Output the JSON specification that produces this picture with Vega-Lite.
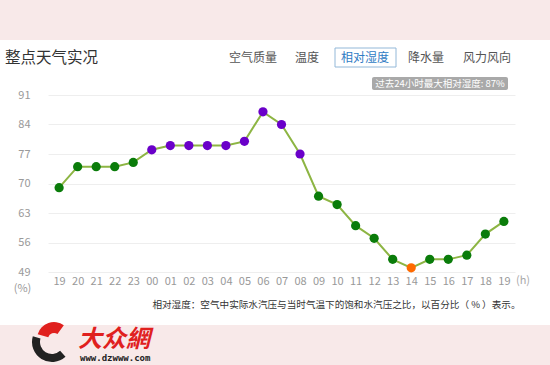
{
  "$schema": "https://vega.github.io/schema/vega-lite/v6.json",
  "width": 467,
  "height": 177,
  "autosize": {"type": "none"},
  "padding": {"left": 48, "top": 95, "right": 35, "bottom": 93},
  "background": "#ffffff",
  "config": {
    "font": "Noto Sans CJK SC",
    "view": {"stroke": null},
    "axis": {"labelFont": "Noto Sans CJK SC"}
  },
  "datasets": {
    "humidity": [
      {"t": "D1 19", "rh": 69, "level": "normal"},
      {"t": "D1 20", "rh": 74, "level": "normal"},
      {"t": "D1 21", "rh": 74, "level": "normal"},
      {"t": "D1 22", "rh": 74, "level": "normal"},
      {"t": "D1 23", "rh": 75, "level": "normal"},
      {"t": "D2 00", "rh": 78, "level": "high"},
      {"t": "D2 01", "rh": 79, "level": "high"},
      {"t": "D2 02", "rh": 79, "level": "high"},
      {"t": "D2 03", "rh": 79, "level": "high"},
      {"t": "D2 04", "rh": 79, "level": "high"},
      {"t": "D2 05", "rh": 80, "level": "high"},
      {"t": "D2 06", "rh": 87, "level": "high"},
      {"t": "D2 07", "rh": 84, "level": "high"},
      {"t": "D2 08", "rh": 77, "level": "high"},
      {"t": "D2 09", "rh": 67, "level": "normal"},
      {"t": "D2 10", "rh": 65, "level": "normal"},
      {"t": "D2 11", "rh": 60, "level": "normal"},
      {"t": "D2 12", "rh": 57, "level": "normal"},
      {"t": "D2 13", "rh": 52, "level": "normal"},
      {"t": "D2 14", "rh": 50, "level": "min"},
      {"t": "D2 15", "rh": 52, "level": "normal"},
      {"t": "D2 16", "rh": 52, "level": "normal"},
      {"t": "D2 17", "rh": 53, "level": "normal"},
      {"t": "D2 18", "rh": 58, "level": "normal"},
      {"t": "D2 19", "rh": 61, "level": "normal"}
    ]
  },
  "layer": [
    {
      "data": {"values": [{}]},
      "mark": {"type": "rect", "fill": "#f8e9e9"},
      "encoding": {
        "x": {"value": -48}, "x2": {"value": 502},
        "y": {"value": -95}, "y2": {"value": -55}
      }
    },
    {
      "data": {"values": [{}]},
      "mark": {"type": "rect", "fill": "#f8e9e9"},
      "encoding": {
        "x": {"value": -48}, "x2": {"value": 502},
        "y": {"value": 230}, "y2": {"value": 270}
      }
    },
    {
      "data": {"values": [{}]},
      "mark": {"type": "text", "text": "整点天气实况", "fontSize": 15.5, "color": "#333333", "align": "left", "baseline": "alphabetic"},
      "encoding": {"x": {"value": -43}, "y": {"value": -32}}
    },
    {
      "data": {"values": [{}]},
      "mark": {"type": "rect", "fill": "#ffffff", "stroke": "#93b8d8", "strokeWidth": 1},
      "encoding": {
        "x": {"value": 287}, "x2": {"value": 348},
        "y": {"value": -47}, "y2": {"value": -28}
      }
    },
    {
      "data": {"values": [{}]},
      "mark": {"type": "text", "text": "空气质量", "fontSize": 12, "color": "#555555", "align": "center", "baseline": "alphabetic"},
      "encoding": {"x": {"value": 205}, "y": {"value": -33}}
    },
    {
      "data": {"values": [{}]},
      "mark": {"type": "text", "text": "温度", "fontSize": 12, "color": "#555555", "align": "center", "baseline": "alphabetic"},
      "encoding": {"x": {"value": 259}, "y": {"value": -33}}
    },
    {
      "data": {"values": [{}]},
      "mark": {"type": "text", "text": "相对湿度", "fontSize": 12, "color": "#2f7cc4", "align": "center", "baseline": "alphabetic"},
      "encoding": {"x": {"value": 317}, "y": {"value": -33}}
    },
    {
      "data": {"values": [{}]},
      "mark": {"type": "text", "text": "降水量", "fontSize": 12, "color": "#555555", "align": "center", "baseline": "alphabetic"},
      "encoding": {"x": {"value": 378}, "y": {"value": -33}}
    },
    {
      "data": {"values": [{}]},
      "mark": {"type": "text", "text": "风力风向", "fontSize": 12, "color": "#555555", "align": "center", "baseline": "alphabetic"},
      "encoding": {"x": {"value": 439}, "y": {"value": -33}}
    },
    {
      "data": {"values": [{}]},
      "mark": {"type": "rect", "fill": "#a9a9a9", "cornerRadius": 2},
      "encoding": {
        "x": {"value": 324}, "x2": {"value": 460},
        "y": {"value": -18}, "y2": {"value": -5}
      }
    },
    {
      "data": {"values": [{}]},
      "mark": {"type": "text", "text": "过去24小时最大相对湿度: 87%", "fontSize": 9.5, "color": "#ffffff", "align": "center", "baseline": "middle"},
      "encoding": {"x": {"value": 392}, "y": {"value": -11.5}}
    },
    {
      "data": {"name": "humidity"},
      "layer": [
        {
          "mark": {"type": "line", "color": "#8db543", "strokeWidth": 2}
        },
        {
          "mark": {"type": "point", "filled": true, "opacity": 1, "size": 85},
          "encoding": {
            "color": {"field": "level", "type": "nominal", "scale": {"domain": ["normal", "high", "min"], "range": ["#0a7c0a", "#6a00c9", "#ff6a00"]}, "legend": null}
          }
        }
      ],
      "encoding": {
        "x": {
          "field": "t", "type": "ordinal", "sort": null,
          "scale": {"type": "point", "padding": 0.6},
          "axis": {
            "title": "相对湿度：空气中实际水汽压与当时气温下的饱和水汽压之比，以百分比（ % ）表示。",
            "titleFontSize": 9.6, "titleFontWeight": "normal", "titleColor": "#333333",
            "titleAnchor": "end", "titlePadding": 13, "titleX": 472,
            "labelExpr": "slice(datum.label, 3)",
            "labelAngle": 0, "labelColor": "#999999", "labelFontSize": 11,
            "labelPadding": 3, "ticks": false, "domain": false, "grid": false
          }
        },
        "y": {
          "field": "rh", "type": "quantitative",
          "scale": {"domain": [49, 91], "nice": false, "zero": false},
          "axis": {
            "values": [49, 56, 63, 70, 77, 84, 91],
            "title": "(%)", "titleAngle": 0, "titleX": -26, "titleY": 193, "titleAlign": "center",
            "titleBaseline": "middle",
            "titleColor": "#999999", "titleFontSize": 11, "titleFontWeight": "normal",
            "labelColor": "#999999", "labelFontSize": 11, "labelPadding": 18,
            "ticks": false, "domain": false, "gridColor": "#eeeeee"
          }
        }
      }
    },
    {
      "data": {"values": [{}]},
      "mark": {"type": "text", "text": "(h)", "fontSize": 11, "color": "#aaaaaa", "align": "center", "baseline": "middle"},
      "encoding": {"x": {"value": 475}, "y": {"value": 186}}
    },
    {
      "data": {"values": [{}]},
      "mark": {"type": "text", "text": "大众網", "fontSize": 24, "fontWeight": "bold", "color": "#e0201e", "align": "left", "baseline": "alphabetic", "fontStyle": "italic"},
      "encoding": {"x": {"value": 30}, "y": {"value": 252}}
    },
    {
      "data": {"values": [{}]},
      "mark": {"type": "text", "text": "www.dzwww.com", "fontSize": 9, "fontWeight": "bold", "color": "#222222", "font": "DejaVu Sans Mono", "align": "left", "baseline": "alphabetic"},
      "encoding": {"x": {"value": 32}, "y": {"value": 266}}
    },
    {
      "data": {"values": [{}]},
      "mark": {"type": "arc", "fill": "#222222", "innerRadius": 12, "outerRadius": 20, "theta": 2.4, "theta2": 5.0},
      "encoding": {"x": {"value": 4}, "y": {"value": 247}}
    },
    {
      "data": {"values": [{}]},
      "mark": {"type": "arc", "fill": "#e0201e", "innerRadius": 6, "outerRadius": 17, "theta": 5.0, "theta2": 6.9},
      "encoding": {"x": {"value": 6}, "y": {"value": 244}}
    }
  ]
}
